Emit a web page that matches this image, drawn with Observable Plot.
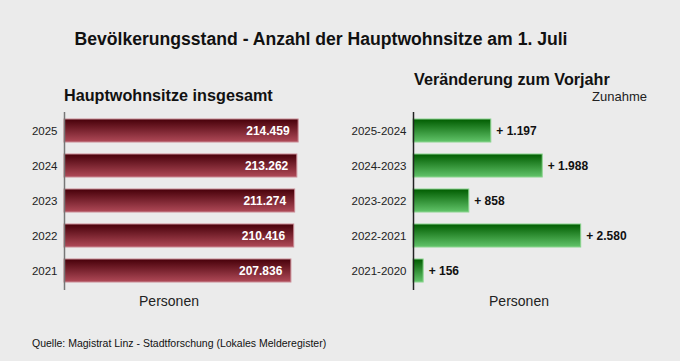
<!DOCTYPE html>
<html>
<head>
<meta charset="utf-8">
<script src="https://cdn.jsdelivr.net/npm/d3@7"></script>
<script src="https://cdn.jsdelivr.net/npm/@observablehq/plot@0.6"></script>
<style>
  html, body { margin: 0; padding: 0; background: #ebebeb; }
  #wrap { position: relative; width: 680px; height: 361px; background: #ebebeb; font-family: "Liberation Sans", Arial, sans-serif; color: #111; overflow: hidden; }
  .abs { position: absolute; white-space: nowrap; }
  #title { left: 0; width: 642px; top: 29px; text-align: center; font-weight: bold; font-size: 17.6px; }
  #sub1 { left: 64px; top: 86px; font-weight: bold; font-size: 16.2px; }
  #sub2 { left: 414px; top: 70px; font-weight: bold; font-size: 16.2px; }
  #zun { right: 33px; top: 89px; font-size: 13px; color: #222; }
  .pers { top: 293px; font-size: 14px; color: #222; width: 120px; text-align: center; }
  #pers1 { left: 109px; }
  #pers2 { left: 459px; }
  #src { left: 32px; top: 337px; font-size: 10.5px; color: #111; }
  #left, #right { position: absolute; top: 0; }
  #left { left: 0; }
  #right { left: 340px; }
</style>
</head>
<body>
<div id="wrap">
  <div id="title" class="abs">Bevölkerungsstand - Anzahl der Hauptwohnsitze am 1. Juli</div>
  <div id="sub1" class="abs">Hauptwohnsitze insgesamt</div>
  <div id="sub2" class="abs">Veränderung zum Vorjahr</div>
  <div id="zun" class="abs">Zunahme</div>
  <div id="pers1" class="abs pers">Personen</div>
  <div id="pers2" class="abs pers">Personen</div>
  <div id="src" class="abs">Quelle: Magistrat Linz - Stadtforschung (Lokales Melderegister)</div>
  <div id="left"></div>
  <div id="right"></div>
</div>
<script>
const years = ["2025", "2024", "2023", "2022", "2021"];
const totals = [214459, 213262, 211274, 210416, 207836];
const periods = ["2025-2024", "2024-2023", "2023-2022", "2022-2021", "2021-2020"];
const changes = [1197, 1988, 858, 2580, 156];

const de = d3.formatLocale({decimal: ",", thousands: ".", grouping: [3], currency: ["", " €"]});
const fmt = de.format(",d");

const leftData = years.map((y, i) => ({y, v: totals[i]}));
const rightData = periods.map((p, i) => ({y: p, v: changes[i]}));

function gradDefs(id, top, bottom) {
  return () => {
    const defs = d3.create("svg:defs");
    const g = defs.append("linearGradient").attr("id", id).attr("x1", 0).attr("y1", 0).attr("x2", 0).attr("y2", 1);
    g.append("stop").attr("offset", "0%").attr("stop-color", top);
    g.append("stop").attr("offset", "100%").attr("stop-color", bottom);
    return defs.node();
  };
}

const common = {
  height: 320,
  marginTop: 112,
  marginBottom: 30,
  style: {background: "transparent", fontFamily: "'Liberation Sans', Arial, sans-serif", fontSize: "11.5px", color: "#222", overflow: "visible"},
};

const left = Plot.plot({
  ...common,
  width: 340,
  marginLeft: 64,
  marginRight: 14,
  x: {domain: [0, 240000], axis: null},
  y: {domain: years, paddingInner: 1/3, paddingOuter: 0.14, label: null, tickSize: 0, tickPadding: 7},
  marks: [
    gradDefs("redGrad", "#470009", "#b04a58"),
    Plot.barX(leftData, {x: "v", y: "y", fill: "url(#redGrad)", stroke: "#c98a94", strokeWidth: 1, inset: 0}),
    Plot.ruleX([0], {stroke: "#777", strokeWidth: 1.5}),
    Plot.text(leftData, {x: "v", y: "y", text: d => fmt(d.v), textAnchor: "end", dx: -9, fill: "white", fontWeight: "bold", fontSize: 12})
  ]
});
document.getElementById("left").appendChild(left);

const right = Plot.plot({
  ...common,
  width: 340,
  marginLeft: 73,
  marginRight: 72,
  x: {domain: [0, 3000], axis: null},
  y: {domain: periods, paddingInner: 1/3, paddingOuter: 0.14, label: null, tickSize: 0, tickPadding: 7},
  marks: [
    gradDefs("greenGrad", "#005c00", "#62c46a"),
    Plot.barX(rightData, {x: "v", y: "y", fill: "url(#greenGrad)", stroke: "#8ad48e", strokeWidth: 1, inset: 0}),
    Plot.ruleX([0], {stroke: "#222", strokeWidth: 1.5}),
    Plot.text(rightData, {x: "v", y: "y", text: d => "+ " + fmt(d.v), textAnchor: "start", dx: 5, fill: "#111", fontWeight: "bold", fontSize: 12})
  ]
});
document.getElementById("right").appendChild(right);
</script>
</body>
</html>
